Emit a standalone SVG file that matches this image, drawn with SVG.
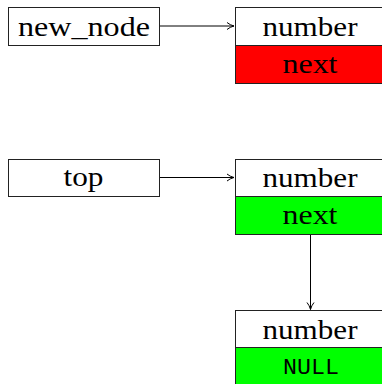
<svg xmlns="http://www.w3.org/2000/svg" width="382" height="384" viewBox="0 0 382 384">
<style>
.box{stroke:#222;stroke-width:1;}
.t{font-family:"Liberation Serif","Times New Roman",serif;font-size:27px;fill:#000;text-anchor:middle;}
.m{font-family:"Liberation Mono","Courier New",monospace;font-size:22px;fill:#000;text-anchor:middle;}
.c{stroke:#000;stroke-width:1;fill:none;}
</style>
<defs>
<marker id="ah" markerWidth="10" markerHeight="10" refX="8" refY="5" orient="auto" markerUnits="userSpaceOnUse">
<path d="M1,1.5 Q4,4 8,5 Q4,6 1,8.5" fill="none" stroke="#000" stroke-width="1"/>
</marker>
</defs>
<g id="connectors">
<line class="c" x1="159.5" y1="26" x2="234" y2="26" marker-end="url(#ah)"/>
<line class="c" x1="159.5" y1="177.5" x2="234" y2="177.5" marker-end="url(#ah)"/>
<line class="c" x1="310.5" y1="234" x2="310.5" y2="309.5" marker-end="url(#ah)"/>
</g>
<g id="new_node">
<rect class="box" x="8.5" y="7.5" width="151" height="38" fill="#fff"/>
<text class="t" x="84" y="36" textLength="132" lengthAdjust="spacingAndGlyphs">new_node</text>
</g>
<g id="node1">
<rect class="box" x="235.5" y="7.5" width="150" height="38" fill="#fff"/>
<rect class="box" x="235.5" y="45.5" width="150" height="38" fill="#ff0000"/>
<text class="t" x="310" y="36" textLength="95" lengthAdjust="spacingAndGlyphs">number</text>
<text class="t" x="310" y="73" textLength="55" lengthAdjust="spacingAndGlyphs">next</text>
</g>
<g id="top">
<rect class="box" x="8.5" y="159.5" width="151" height="37" fill="#fff"/>
<text class="t" x="83.5" y="186" textLength="40" lengthAdjust="spacingAndGlyphs">top</text>
</g>
<g id="node2">
<rect class="box" x="235.5" y="159.5" width="150" height="37" fill="#fff"/>
<rect class="box" x="235.5" y="196.5" width="150" height="38" fill="#00ff00"/>
<text class="t" x="310" y="187" textLength="95" lengthAdjust="spacingAndGlyphs">number</text>
<text class="t" x="310" y="224" textLength="55" lengthAdjust="spacingAndGlyphs">next</text>
</g>
<g id="node3">
<rect class="box" x="235.5" y="310.5" width="150" height="37" fill="#fff"/>
<rect class="box" x="235.5" y="347.5" width="150" height="38" fill="#00ff00"/>
<text class="t" x="310" y="339" textLength="95" lengthAdjust="spacingAndGlyphs">number</text>
<text class="m" x="311" y="374" textLength="56" lengthAdjust="spacingAndGlyphs">NULL</text>
</g>
</svg>
